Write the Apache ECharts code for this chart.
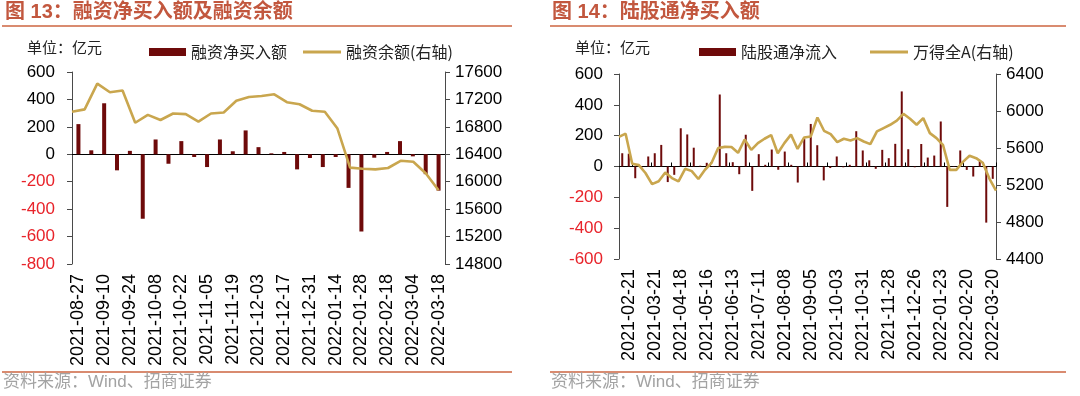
<!DOCTYPE html>
<html><head><meta charset="utf-8">
<script src="https://cdn.jsdelivr.net/npm/echarts@6/dist/echarts.min.js"></script>
<style>html,body{margin:0;padding:0;background:#fff}#c{width:1080px;height:396px}</style>
</head><body><div id="c"></div>
<script>
// ---------- data: 图13 ----------
const marginDates = ['2021-08-27','2021-09-03','2021-09-10','2021-09-17','2021-09-24','2021-09-30','2021-10-08','2021-10-15','2021-10-22','2021-10-29','2021-11-05','2021-11-12','2021-11-19','2021-11-26','2021-12-03','2021-12-10','2021-12-17','2021-12-24','2021-12-31','2022-01-07','2022-01-14','2022-01-21','2022-01-28','2022-02-11','2022-02-18','2022-02-25','2022-03-04','2022-03-11','2022-03-18'];
const marginNetBuy = [220,29,372,-117,25,-470,108,-69,96,-20,-93,108,22,174,52,7,17,-110,-27,-93,-20,-245,-563,-25,17,96,-15,-145,-265];
const marginLineDates = ['2021-08-20','2021-08-27','2021-09-03','2021-09-10','2021-09-17','2021-09-24','2021-09-30','2021-10-08','2021-10-15','2021-10-22','2021-10-29','2021-11-05','2021-11-12','2021-11-19','2021-11-26','2021-12-03','2021-12-10','2021-12-17','2021-12-24','2021-12-31','2022-01-07','2022-01-14','2022-01-21','2022-01-28','2022-02-11','2022-02-18','2022-02-25','2022-03-04','2022-03-11','2022-03-18'];
const marginBalance = [17020,17055,17430,17305,17330,16860,16975,16900,16995,16985,16875,16995,17010,17180,17235,17250,17275,17160,17130,17035,17020,16775,16205,16190,16180,16200,16305,16290,16120,15875];
const marginLeftAxis = [-800, 600, 200];
const marginRightAxis = [14800, 17600, 400];

// ---------- data: 图14 ----------
const northDates = ['2021-02-14','2021-02-21','2021-02-28','2021-03-07','2021-03-14','2021-03-21','2021-03-28','2021-04-04','2021-04-11','2021-04-18','2021-04-25','2021-05-02','2021-05-09','2021-05-16','2021-05-23','2021-05-30','2021-06-06','2021-06-13','2021-06-20','2021-06-27','2021-07-04','2021-07-11','2021-07-18','2021-07-25','2021-08-01','2021-08-08','2021-08-15','2021-08-22','2021-08-29','2021-09-05','2021-09-12','2021-09-19','2021-09-26','2021-10-03','2021-10-10','2021-10-17','2021-10-24','2021-10-31','2021-11-07','2021-11-14','2021-11-21','2021-11-28','2021-12-05','2021-12-12','2021-12-19','2021-12-26','2022-01-02','2022-01-09','2022-01-16','2022-01-23','2022-01-30','2022-02-06','2022-02-13','2022-02-20','2022-02-27','2022-03-06','2022-03-13','2022-03-20'];
const northNetInflow = [86,83,-76,-5,65,86,140,-101,-54,248,208,122,5,24,3,467,86,28,-50,206,-158,80,11,110,-21,97,11,-104,180,276,138,-90,-10,65,-5,11,229,104,40,-15,108,54,147,487,112,-5,146,58,71,292,-262,-3,104,-22,-65,35,-364,-80];
const windAllA = [5720,5755,5430,5415,5330,5210,5240,5335,5275,5240,5375,5350,5265,5365,5440,5600,5612,5610,5548,5692,5580,5653,5700,5740,5544,5653,5745,5590,5714,5725,5930,5786,5750,5663,5700,5682,5707,5670,5642,5779,5815,5851,5895,5970,5916,5851,5923,5761,5707,5630,5364,5364,5450,5516,5490,5440,5270,5140];
const northLeftAxis = [-600, 600, 200];
const northRightAxis = [4400, 6400, 400];

// ---------- styles ----------
const BAR = '#6e0a0a', GOLD = '#c9a64e', AX = '#4a4a4a', RED = '#e8232a';
const TITLE = '#c2573e', RULE = '#d98b70', NUMF = '"Liberation Sans", Arial, sans-serif';
const CJK = '"Noto Sans CJK SC", sans-serif';
const P1 = {x0:72, x1:445, y0:72, y1:264};
const P2 = {x0:619, x1:996, y0:74, y1:259};
const c1 = (P1.x1 - P1.x0) / marginDates.length;

function yLabel(colorNeg) {
  return {
    fontSize:17, fontFamily:NUMF, color:'#000',
    formatter: v => (v < 0 && colorNeg) ? '{n|' + v + '}' : '{p|' + v + '}',
    rich: { n:{color:RED, fontSize:17, fontFamily:NUMF}, p:{color:'#000', fontSize:17, fontFamily:NUMF} }
  };
}
function yAx(gi, pos, r, neg, margin) {
  const lbl = yLabel(neg); lbl.margin = margin;
  return { type:'value', gridIndex:gi, position:pos, min:r[0], max:r[1], interval:r[2],
    axisLine:{show:true, lineStyle:{color:AX, width:1}},
    axisTick:{show:true, length:5, lineStyle:{color:AX}},
    splitLine:{show:false}, axisLabel:lbl };
}
const xLbl = {rotate:90, fontSize:18, fontFamily:NUMF, color:'#000', margin:10};

const chart = echarts.init(document.getElementById('c'), null, {renderer:'canvas'});
chart.setOption({
  animation:false,
  backgroundColor:'#fff',
  grid:[
    {left:P1.x0, top:P1.y0, width:P1.x1-P1.x0, height:P1.y1-P1.y0},
    {left:P1.x0, top:P1.y0, width:P1.x1-P1.x0-c1/2, height:P1.y1-P1.y0},
    {left:P2.x0, top:P2.y0, width:P2.x1-P2.x0, height:P2.y1-P2.y0}
  ],
  xAxis:[
    {type:'category', gridIndex:0, data:marginDates, position:'bottom',
     axisLine:{show:false, onZero:false}, axisTick:{show:false},
     axisLabel:Object.assign({interval:1}, xLbl)},
    {type:'category', gridIndex:0, data:marginDates,
     axisLine:{show:true, onZero:true, lineStyle:{color:'#000', width:1}}, axisTick:{show:false}, axisLabel:{show:false}},
    {type:'category', gridIndex:1, data:marginLineDates, boundaryGap:false, show:false},
    {type:'category', gridIndex:2, data:northDates, position:'bottom',
     axisLine:{show:false, onZero:false}, axisTick:{show:false},
     axisLabel:Object.assign({interval:(i) => i % 4 === 1}, xLbl)},
    {type:'category', gridIndex:2, data:northDates,
     axisLine:{show:true, onZero:true, lineStyle:{color:'#000', width:1}},
     axisTick:{show:true, length:4, interval:(i) => i % 3 === 2, lineStyle:{color:'#000'}}, axisLabel:{show:false}},
    {type:'category', gridIndex:2, data:northDates, boundaryGap:false, show:false}
  ],
  yAxis:[
    yAx(0, 'left', marginLeftAxis, true, 17),
    yAx(0, 'right', marginRightAxis, false, 10),
    {type:'value', gridIndex:1, min:marginRightAxis[0], max:marginRightAxis[1], show:false},
    yAx(2, 'left', northLeftAxis, true, 16),
    yAx(2, 'right', northRightAxis, false, 10)
  ],
  legend:[
    {data:['融资净买入额'], left:144, top:39, icon:'rect', itemWidth:37, itemHeight:8,
     textStyle:{fontSize:16, fontFamily:CJK, color:'#222'}},
    {data:['融资余额(右轴)'], left:298, top:39, icon:'rect', itemWidth:38, itemHeight:3,
     textStyle:{fontSize:16, fontFamily:CJK, color:'#222'}},
    {data:['陆股通净流入'], left:694, top:39, icon:'rect', itemWidth:37, itemHeight:8,
     textStyle:{fontSize:16, fontFamily:CJK, color:'#222'}},
    {data:['万得全A(右轴)'], left:865, top:39, icon:'rect', itemWidth:38, itemHeight:3,
     textStyle:{fontSize:16, fontFamily:CJK, color:'#222'}}
  ],
  series:[
    {name:'融资净买入额', type:'bar', xAxisIndex:0, yAxisIndex:0, data:marginNetBuy,
     barWidth:4, itemStyle:{color:BAR}},
    {name:'融资余额(右轴)', type:'line', xAxisIndex:2, yAxisIndex:2, data:marginBalance,
     showSymbol:false, symbol:'none', lineStyle:{color:GOLD, width:2.6}, itemStyle:{color:GOLD}},
    {name:'陆股通净流入', type:'bar', xAxisIndex:3, yAxisIndex:3, data:northNetInflow,
     barWidth:2, itemStyle:{color:BAR}},
    {name:'万得全A(右轴)', type:'line', xAxisIndex:5, yAxisIndex:4, data:windAllA,
     showSymbol:false, symbol:'none', lineStyle:{color:GOLD, width:2.6}, itemStyle:{color:GOLD}}
  ],
  graphic:[
    {type:'text', left:5, top:2, style:{text:'图 13：融资净买入额及融资余额', font:'bold 20px "Liberation Sans","Noto Sans CJK SC"', fill:TITLE}},
    {type:'text', left:552, top:2, style:{text:'图 14：陆股通净买入额', font:'bold 20px "Liberation Sans","Noto Sans CJK SC"', fill:TITLE}},
    {type:'line', shape:{x1:2, y1:26, x2:512, y2:26}, style:{stroke:RULE, lineWidth:2}},
    {type:'line', shape:{x1:550, y1:26, x2:1066, y2:26}, style:{stroke:RULE, lineWidth:2}},
    {type:'line', shape:{x1:2, y1:372, x2:512, y2:372}, style:{stroke:RULE, lineWidth:2}},
    {type:'line', shape:{x1:550, y1:372, x2:1066, y2:372}, style:{stroke:RULE, lineWidth:2}},
    {type:'text', left:27, top:40, style:{text:'单位：亿元', font:'15px "Noto Sans CJK SC"', fill:'#222'}},
    {type:'text', left:575, top:40, style:{text:'单位：亿元', font:'15px "Noto Sans CJK SC"', fill:'#222'}},
    {type:'text', left:3, top:374, style:{text:'资料来源：Wind、招商证券', font:'17px "Liberation Sans","Noto Sans CJK SC"', fill:'#a3a3a3'}},
    {type:'text', left:551, top:374, style:{text:'资料来源：Wind、招商证券', font:'17px "Liberation Sans","Noto Sans CJK SC"', fill:'#a3a3a3'}}
  ]
});
</script></body></html>
